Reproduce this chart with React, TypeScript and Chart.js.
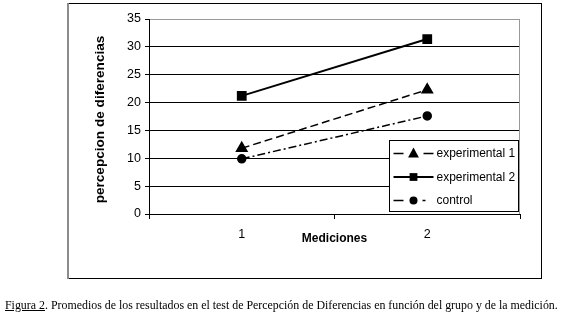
import React, { useEffect, useRef } from 'react';
import { Chart, registerables } from 'chart.js';

Chart.register(...registerables);

const categories = ['1', '2'];
const experimental1 = [11.8, 22.3];
const experimental2 = [21.2, 31.4];
const control = [9.9, 17.6];
const seriesNames = ['experimental 1', 'experimental 2', 'control'];
const yMin = 0;
const yMax = 35;
const yStep = 5;
const xTitle = 'Mediciones';
const yTitle = 'percepcion de diferencias';
const captionLabel = 'Figura 2';
const captionText =
  '. Promedios de los resultados en el test de Percepción de Diferencias en función del grupo y de la medición.';

const FONT = '"Liberation Sans", Arial, sans-serif';

const legendDashes: number[][] = [[10, 20], [], [10, 19, 3, 20]];

function drawMarker(ctx: CanvasRenderingContext2D, style: string, x: number, y: number, r: number) {
  ctx.beginPath();
  if (style === 'rect') {
    const s = r * Math.SQRT1_2;
    ctx.rect(x - s, y - s, 2 * s, 2 * s);
  } else if (style === 'triangle') {
    ctx.moveTo(x, y - r);
    ctx.lineTo(x - r * 0.9, y + r * 0.65);
    ctx.lineTo(x + r * 0.9, y + r * 0.65);
    ctx.closePath();
  } else {
    ctx.arc(x, y, r, 0, Math.PI * 2);
  }
  ctx.fill();
}

const decorPlugin = {
  id: 'decor',
  beforeDraw(chart: any) {
    const ctx = chart.ctx as CanvasRenderingContext2D;
    ctx.save();
    ctx.fillStyle = '#fff';
    ctx.fillRect(0, 0, chart.width, chart.height);
    ctx.strokeStyle = '#000';
    ctx.lineWidth = 1;
    ctx.strokeRect(67.5, 3.5, 474, 275);
    ctx.strokeStyle = '#8c8c8c';
    ctx.lineWidth = 2;
    ctx.beginPath();
    ctx.moveTo(68, 3);
    ctx.lineTo(68, 279);
    ctx.stroke();
    ctx.restore();
  },
  afterDraw(chart: any) {
    const ctx = chart.ctx as CanvasRenderingContext2D;
    const ca = chart.chartArea;
    ctx.save();
    // right plot border (gray)
    ctx.strokeStyle = '#999';
    ctx.lineWidth = 1;
    ctx.beginPath();
    ctx.moveTo(Math.round(ca.right) - 0.5, ca.top);
    ctx.lineTo(Math.round(ca.right) - 0.5, ca.bottom);
    ctx.stroke();

    // axis titles
    ctx.fillStyle = '#000';
    ctx.font = 'bold 12px ' + FONT;
    ctx.textAlign = 'center';
    ctx.textBaseline = 'middle';
    ctx.fillText(xTitle, (ca.left + ca.right) / 2, ca.bottom + 25);
    ctx.save();
    ctx.font = 'bold 13.6px ' + FONT;
    ctx.translate(ca.left - 49, (ca.top + ca.bottom) / 2 + 3);
    ctx.rotate(-Math.PI / 2);
    ctx.fillText(yTitle, 0, 0);
    ctx.restore();

    // legend
    const bx = Math.round(ca.right) - 130.5;
    const by = Math.round(ca.top) + 121.5;
    const bw = 129;
    const bh = 71;
    ctx.fillStyle = '#fff';
    ctx.fillRect(bx, by, bw, bh);
    ctx.strokeStyle = '#000';
    ctx.lineWidth = 1;
    ctx.strokeRect(bx, by, bw, bh);
    chart.data.datasets.forEach((ds: any, i: number) => {
      const cy = by + 13 + i * 23.5;
      const x0 = bx + 4;
      const x1 = bx + 44;
      ctx.strokeStyle = '#000';
      ctx.lineWidth = ds.borderWidth;
      ctx.setLineDash(legendDashes[i]);
      ctx.beginPath();
      ctx.moveTo(x0, cy);
      ctx.lineTo(x1, cy);
      ctx.stroke();
      ctx.setLineDash([]);
      ctx.fillStyle = '#000';
      drawMarker(ctx, ds.pointStyle, (x0 + x1) / 2, cy, ds.pointRadius);
      ctx.font = '12px ' + FONT;
      ctx.textAlign = 'left';
      ctx.textBaseline = 'middle';
      ctx.fillText(ds.label, x1 + 3, cy + 0.5);
    });
    ctx.restore();
  },
};

export default function App() {
  const canvasRef = useRef<HTMLCanvasElement | null>(null);

  useEffect(() => {
    const canvas = canvasRef.current;
    if (!canvas) return;
    const chart = new Chart(canvas, {
      type: 'line',
      data: {
        labels: categories,
        datasets: [
          {
            label: seriesNames[0],
            data: experimental1,
            borderColor: '#000',
            backgroundColor: '#000',
            borderWidth: 1.5,
            borderDash: [8, 4],
            pointStyle: 'triangle',
            pointRadius: 6,
            pointBackgroundColor: '#000',
            pointBorderColor: '#000',
          },
          {
            label: seriesNames[1],
            data: experimental2,
            borderColor: '#000',
            backgroundColor: '#000',
            borderWidth: 2,
            pointStyle: 'rect',
            pointRadius: 5.5,
            pointBackgroundColor: '#000',
            pointBorderColor: '#000',
          },
          {
            label: seriesNames[2],
            data: control,
            borderColor: '#000',
            backgroundColor: '#000',
            borderWidth: 1.5,
            borderDash: [8, 3, 2, 3],
            pointStyle: 'circle',
            pointRadius: 4,
            pointBackgroundColor: '#000',
            pointBorderColor: '#000',
          },
        ],
      },
      options: {
        responsive: false,
        animation: false,
        layout: { padding: { left: 0, right: 41, top: 19, bottom: 0 } },
        plugins: { legend: { display: false }, tooltip: { enabled: false } },
        scales: {
          x: {
            type: 'category',
            offset: true,
            afterFit: (s: any) => {
              s.height = 105;
            },
            grid: {
              display: true,
              offset: true,
              drawOnChartArea: false,
              drawTicks: true,
              tickLength: 5,
              color: '#000',
              tickColor: '#000',
            },
            border: { display: true, color: '#000', width: 1 },
            ticks: { color: '#000', font: { family: FONT, size: 12.5 }, padding: 8 },
          },
          y: {
            min: yMin,
            max: yMax,
            afterFit: (s: any) => {
              s.width = 149;
            },
            ticks: { stepSize: yStep, color: '#000', font: { family: FONT, size: 12.5 }, padding: 4 },
            grid: {
              color: (c: any) => (c.tick && c.tick.value === yMax ? '#999' : '#000'),
              tickColor: '#000',
              tickLength: 4,
              lineWidth: 1,
            },
            border: { display: true, color: '#000', width: 1 },
          },
        },
      },
      plugins: [decorPlugin],
    });
    return () => chart.destroy();
  }, []);

  return (
    <div style={{ position: 'fixed', left: 0, top: 0, width: 561, height: 319, background: '#fff', overflow: 'hidden' }}>
      <canvas ref={canvasRef} width={561} height={319} style={{ position: 'absolute', left: 0, top: 0, width: 561, height: 319 }} />
      <div
        style={{
          position: 'absolute',
          left: 5,
          top: 298,
          font: '11.9px "Liberation Serif", "Times New Roman", serif',
          lineHeight: '14px',
          whiteSpace: 'nowrap',
          color: '#000',
        }}
      >
        <span style={{ textDecoration: 'underline' }}>{captionLabel}</span>
        {captionText}
      </div>
    </div>
  );
}
